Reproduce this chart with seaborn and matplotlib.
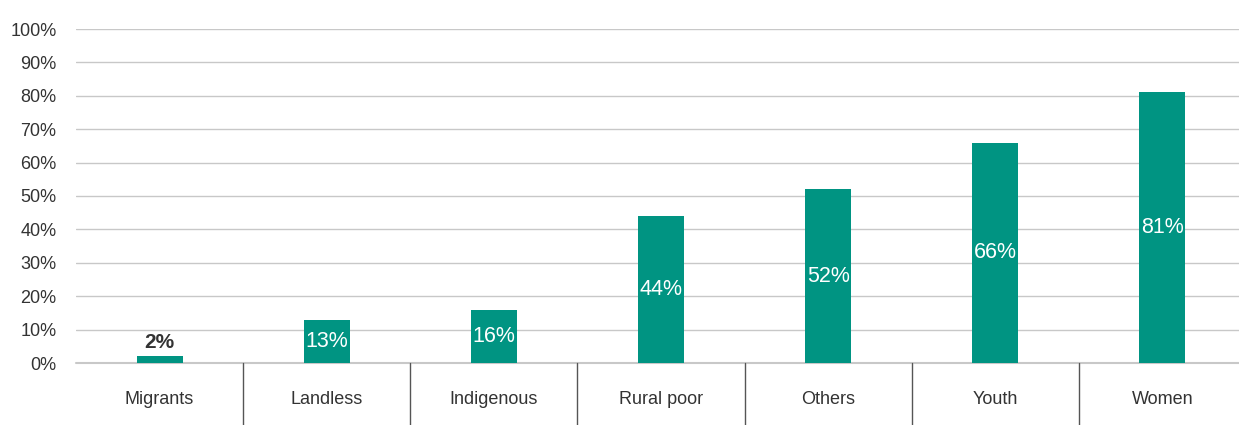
import matplotlib
matplotlib.use("Agg")
import matplotlib.pyplot as plt
import seaborn as sns
import pandas as pd

categories = ["Migrants", "Landless", "Indigenous", "Rural poor", "Others", "Youth", "Women"]
values = [2, 13, 16, 44, 52, 66, 81]
y_ticks = [0, 10, 20, 30, 40, 50, 60, 70, 80, 90, 100]

sns.set_theme(style="white")
plt.rcParams["font.family"] = ["Liberation Sans", "DejaVu Sans"]

bar_color = "#009482"
text_color = "#333333"
grid_color = "#c8c8c8"

df = pd.DataFrame({"group": categories, "share": values})

fig = plt.figure(figsize=(12.39, 4.25), dpi=100)
ax = fig.add_axes([76 / 1239, 62 / 425, 1170 / 1239, 334 / 425])

sns.barplot(data=df, x="group", y="share", color=bar_color, width=0.275,
            saturation=1, linewidth=0, ax=ax, zorder=3)

ax.set_xlim(-0.5, len(categories) - 0.5)
ax.set_ylim(0, 100)
ax.set_yticks(y_ticks)
ax.set_yticklabels([f"{t}%" for t in y_ticks])
ax.yaxis.grid(True, color=grid_color, linewidth=1)
ax.axhline(0, color=grid_color, linewidth=1.5, clip_on=False, zorder=2)
ax.set_axisbelow(True)
for s in ax.spines.values():
    s.set_visible(False)
ax.set_xlabel("")
ax.set_ylabel("")
ax.tick_params(axis="y", length=0, pad=14, labelsize=13, labelcolor=text_color)
ax.tick_params(axis="x", length=0, pad=20, labelsize=13, labelcolor=text_color)

# vertical separators between category bands, below the baseline
for i in range(len(categories) - 1):
    ax.plot([i + 0.5, i + 0.5], [0, -0.2], transform=ax.get_xaxis_transform(),
            color="#555555", linewidth=1, clip_on=False)

# value labels
for i, v in enumerate(values):
    if v < 8:
        ax.text(i, v + 1.2, f"{v}%", ha="center", va="bottom", fontsize=15,
                fontweight="bold", color=text_color, zorder=4)
    else:
        ax.text(i, v / 2, f"{v}%", ha="center", va="center", fontsize=15.5,
                color="white", zorder=4)

fig.savefig("out.png", dpi=100)
